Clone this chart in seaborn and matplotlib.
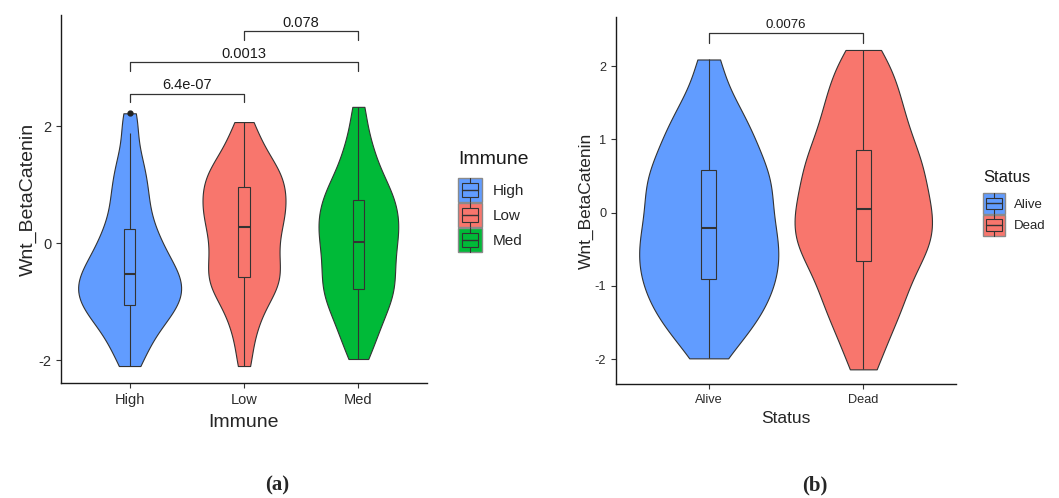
import pandas as pd
import matplotlib
matplotlib.use("Agg")
import matplotlib.pyplot as plt
import seaborn as sns
from matplotlib.patches import Rectangle, Patch
from matplotlib.lines import Line2D
from matplotlib.legend_handler import HandlerBase

# Wnt_BetaCatenin scores, estimated from the violin/box shapes in the picture
high_vals = [-2.10, -1.90, -1.74, -1.60, -1.48, -1.39, -1.31, -1.24, -1.17, -1.11,
             -1.05, -1.00, -0.95, -0.89, -0.84, -0.79, -0.74, -0.69, -0.63, -0.58,
             -0.53, -0.47, -0.41, -0.35, -0.28, -0.20, -0.12, -0.04, 0.05, 0.15,
             0.25, 0.37, 0.51, 0.66, 0.82, 0.96, 1.12, 1.32, 1.50, 1.88, 2.22]
low_vals = [-2.10, -1.72, -1.45, -1.26, -1.10, -0.97, -0.87, -0.78, -0.70, -0.63,
            -0.57, -0.49, -0.41, -0.33, -0.24, -0.16, -0.07, 0.02, 0.10, 0.18,
            0.27, 0.34, 0.41, 0.48, 0.55, 0.62, 0.68, 0.75, 0.82, 0.89,
            0.96, 1.03, 1.10, 1.17, 1.24, 1.31, 1.41, 1.52, 1.66, 1.84, 2.07]
med_vals = [-1.98, -1.77, -1.58, -1.45, -1.32, -1.20, -1.11, -1.01, -0.92, -0.85,
            -0.78, -0.70, -0.62, -0.54, -0.46, -0.38, -0.30, -0.22, -0.14, -0.06,
            0.02, 0.09, 0.16, 0.23, 0.30, 0.37, 0.44, 0.51, 0.58, 0.66,
            0.74, 0.81, 0.89, 0.98, 1.08, 1.20, 1.33, 1.50, 1.68, 1.94, 2.33]
alive_vals = [-1.99, -1.77, -1.64, -1.51, -1.42, -1.33, -1.24, -1.15, -1.08, -1.00,
              -0.91, -0.85, -0.78, -0.71, -0.63, -0.56, -0.49, -0.42, -0.35, -0.27,
              -0.21, -0.12, -0.04, 0.04, 0.12, 0.20, 0.28, 0.36, 0.44, 0.52,
              0.58, 0.68, 0.78, 0.88, 0.98, 1.09, 1.21, 1.34, 1.50, 1.72, 2.09]
dead_vals = [-2.14, -1.84, -1.64, -1.46, -1.34, -1.21, -1.09, -0.97, -0.88, -0.76,
             -0.66, -0.58, -0.51, -0.44, -0.37, -0.30, -0.23, -0.15, -0.08, -0.01,
             0.05, 0.13, 0.21, 0.29, 0.37, 0.45, 0.54, 0.62, 0.70, 0.78,
             0.86, 0.97, 1.08, 1.19, 1.31, 1.43, 1.56, 1.70, 1.85, 2.02, 2.22]

immune_levels = ["High", "Low", "Med"]
status_levels = ["Alive", "Dead"]
immune_tests = [("High", "Low", "6.4e-07"), ("High", "Med", "0.0013"), ("Low", "Med", "0.078")]
status_tests = [("Alive", "Dead", "0.0076")]

immune_colors = {"High": "#619CFF", "Low": "#F8766D", "Med": "#00BA38"}
status_colors = {"Alive": "#619CFF", "Dead": "#F8766D"}

immune_df = pd.DataFrame({
    "Immune": ["High"] * len(high_vals) + ["Low"] * len(low_vals) + ["Med"] * len(med_vals),
    "Wnt_BetaCatenin": high_vals + low_vals + med_vals,
})
status_df = pd.DataFrame({
    "Status": ["Alive"] * len(alive_vals) + ["Dead"] * len(dead_vals),
    "Wnt_BetaCatenin": alive_vals + dead_vals,
})

sns.set_theme(style="ticks")
plt.rcParams["font.family"] = ["Liberation Sans", "DejaVu Sans"]

EDGE = "#333333"
W, H = 1059, 498


class BoxKey(HandlerBase):
    # ggplot-like key: filled square with a small boxplot glyph
    def create_artists(self, legend, orig_handle, xdescent, ydescent, width, height, fontsize, trans):
        x0, y0 = -xdescent, -ydescent
        fc = orig_handle.get_facecolor()
        outer = Rectangle((x0, y0), width, height, facecolor=fc, edgecolor="#8a8a8a", lw=1.0, transform=trans)
        whisk = Line2D([x0 + width / 2] * 2, [y0, y0 + height], color=EDGE, lw=0.8, transform=trans)
        box = Rectangle((x0 + 0.15 * width, y0 + 0.22 * height), 0.7 * width, 0.56 * height,
                        facecolor=fc, edgecolor=EDGE, lw=0.8, transform=trans)
        med = Line2D([x0 + 0.15 * width, x0 + 0.85 * width], [y0 + height / 2] * 2,
                     color=EDGE, lw=1.0, transform=trans)
        return [outer, whisk, box, med]


def draw_panel(ax, df, col, levels, colors, tests, ylim, yticks, fs_tick, fs_title,
               fs_p, brackets, leg_x, leg_title_y, leg_y, fs_leg_title, fs_leg,
               key_w, key_h, xpad, ypad):
    pal = [colors[k] for k in levels]
    sns.violinplot(data=df, x=col, y="Wnt_BetaCatenin", hue=col, order=levels, hue_order=levels,
                   palette=pal, cut=0, density_norm="area", common_norm=True, width=0.9,
                   inner=None, linewidth=0.8, linecolor=EDGE, bw_adjust=0.6, saturation=1,
                   legend=False, ax=ax)
    sns.boxplot(data=df, x=col, y="Wnt_BetaCatenin", hue=col, order=levels, hue_order=levels,
                palette=pal, width=0.1, linewidth=0.8, linecolor=EDGE, saturation=1,
                fliersize=3.5, showcaps=False,
                flierprops=dict(marker="o", markerfacecolor="#222222", markeredgecolor="#222222"),
                medianprops=dict(linewidth=1.5, color=EDGE),
                legend=False, ax=ax)

    ax.set_xlim(-0.6, len(levels) - 0.4)
    ax.set_ylim(*ylim)
    ax.set_yticks(yticks)
    ax.set_yticklabels([str(t) for t in yticks])
    ax.tick_params(axis="both", labelsize=fs_tick, labelcolor="#2b2b2b", color=EDGE,
                   length=3.5, width=0.8)
    ax.set_xlabel(col, fontsize=fs_title, labelpad=xpad)
    ax.set_ylabel("Wnt_BetaCatenin", fontsize=fs_title, labelpad=ypad)
    sns.despine(ax=ax)
    for s in ("left", "bottom"):
        ax.spines[s].set_color("#1a1a1a")
        ax.spines[s].set_linewidth(1.0)

    # significance brackets
    for (a, b, p), (y, drop, dy) in zip(tests, brackets):
        xa, xb = levels.index(a), levels.index(b)
        ax.plot([xa, xa, xb, xb], [y - drop, y, y, y - drop], color=EDGE, lw=0.9, clip_on=False)
        ax.text((xa + xb) / 2, y + dy, p, ha="center", va="bottom", fontsize=fs_p, color="#1a1a1a")

    fig = ax.figure
    handles = [Patch(facecolor=colors[k]) for k in levels]
    ax.legend(handles, levels, loc="upper left",
              bbox_to_anchor=(leg_x / W, 1 - leg_y / H), bbox_transform=fig.transFigure,
              frameon=False, borderpad=0, borderaxespad=0, fontsize=fs_leg,
              handlelength=key_w, handleheight=key_h, labelspacing=0.05,
              handletextpad=0.7, handler_map={Patch: BoxKey()})
    fig.text(leg_x / W, 1 - leg_title_y / H, col, ha="left", va="center",
             fontsize=fs_leg_title, color="#1a1a1a")


fig = plt.figure(figsize=(10.59, 4.98), dpi=100)
ax_a = fig.add_axes([61 / W, 1 - 383 / H, (427 - 61) / W, (383 - 15) / H])
ax_b = fig.add_axes([616 / W, 1 - 384 / H, (956 - 616) / W, (384 - 17) / H])

draw_panel(ax_a, immune_df, "Immune", immune_levels, immune_colors, immune_tests,
           ylim=(-2.39, 3.9), yticks=[-2, 0, 2], fs_tick=10.5, fs_title=14, fs_p=10.5,
           brackets=[(2.55, 0.13, 0.03), (3.09, 0.14, 0.03), (3.62, 0.14, 0.03)],
           leg_x=458, leg_title_y=159, leg_y=178, fs_leg_title=14, fs_leg=11,
           key_w=1.55, key_h=2.05, xpad=5.5, ypad=1.0)
draw_panel(ax_b, status_df, "Status", status_levels, status_colors, status_tests,
           ylim=(-2.34, 2.67), yticks=[-2, -1, 0, 1, 2], fs_tick=9.2, fs_title=12.5, fs_p=9.5,
           brackets=[(2.45, 0.14, 0.035)],
           leg_x=983, leg_title_y=177, leg_y=193, fs_leg_title=12, fs_leg=9.5,
           key_w=1.66, key_h=2.07, xpad=3.5, ypad=0.5)

for x, lab in [(277, "(a)"), (815, "(b)")]:
    fig.text(x / W, 1 - 485 / H, lab, ha="center", va="center", fontsize=15,
             fontweight="bold", family=["Liberation Serif", "DejaVu Serif"])

fig.savefig("out.png", dpi=100)
